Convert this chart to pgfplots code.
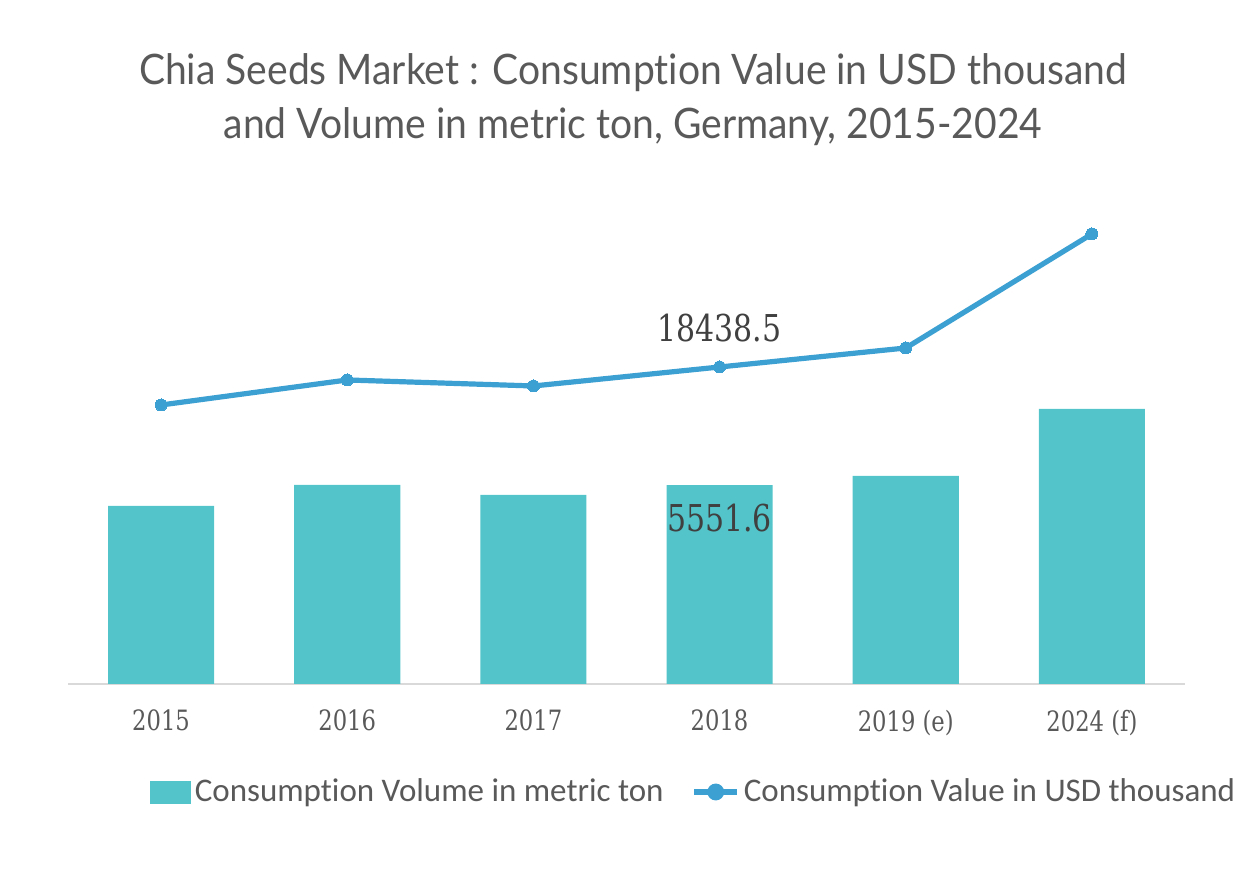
\documentclass[border=0pt]{standalone}
\usepackage{pgfplots}
\pgfplotsset{compat=1.18}
\usepackage{fontspec}
\setmainfont{Lato}[FakeStretch=0.93, Ligatures=NoCommon]
\newfontfamily\legfont{Carlito}[Ligatures=NoCommon]
\newfontfamily\tickfont{DejaVu Serif Condensed}[FakeStretch=0.9]
\definecolor{barc}{HTML}{52C4CA}
\definecolor{linec}{HTML}{3CA0D2}
\definecolor{txt}{HTML}{595959}
\definecolor{lab}{HTML}{404040}
\definecolor{axc}{HTML}{D9D9D9}
\begin{document}
\begin{tikzpicture}
\path[use as bounding box] (0pt,0pt) rectangle (626.5pt,439pt);
\node[align=center, text=txt, font=\fontsize{21}{27}\selectfont] at (316.5pt,389pt) {Chia Seeds Market : Consumption Value in USD thousand\\and Volume in metric ton, Germany, 2015-2024};
\begin{axis}[
  at={(34pt,97pt)}, anchor=south west,
  scale only axis, width=558.5pt, height=250pt,
  xmin=-0.5, xmax=5.5, ymin=0, ymax=13949,
  axis y line=none, axis x line*=bottom,
  x axis line style={draw=axc, line width=1pt, -},
  xtick={0,1,2,3,4,5},
  xticklabels={2015,2016,2017,2018,2019 (e),2024 (f)},
  major tick length=0pt,
  xticklabel style={font=\tickfont\fontsize{14}{16}\selectfont, text=txt, yshift=-9.5pt},
  ytick=\empty, clip=false,
]
\addplot[ybar, bar width=0.57, fill=barc, draw=none] coordinates {(0,4966) (1,5552) (2,5273) (3,5551.6) (4,5803) (5,7672)};
\node[text=lab, font=\tickfont\fontsize{18.5}{20}\selectfont, anchor=center] at (axis cs:3,5551.6) [yshift=-16.5pt] {5551.6};
\end{axis}
\begin{axis}[
  at={(34pt,97pt)}, anchor=south west,
  scale only axis, width=558.5pt, height=250pt,
  xmin=-0.5, xmax=5.5, ymin=0, ymax=29083,
  hide axis, clip=false,
  legend style={at={(0.561,-0.216)}, anchor=center, draw=none, fill=none,
    legend columns=2, font=\legfont\fontsize{16.5}{18}\selectfont, text=txt,
    /tikz/every even column/.append style={column sep=12pt}, inner sep=0pt},
  legend cell align=left,
]
\addlegendimage{legend image code/.code={\fill[barc] (0pt,-5.5pt) rectangle (20pt,5.5pt);}}
\addlegendentry{Consumption Volume in metric ton}
\addplot[linec, line width=2.6pt, mark=*, mark size=3pt, mark options={fill=linec, draw=linec, line width=0pt},
  legend image code/.code={\draw[linec, line width=2.6pt] (0pt,0pt) -- (21.5pt,0pt); \fill[linec] (10.75pt,0pt) circle (2.9pt);}]
  coordinates {(0,16229) (1,17684) (2,17335) (3,18438.5) (4,19545) (5,26177)};
\addlegendentry{Consumption Value in USD thousand}
\node[text=lab, font=\tickfont\fontsize{18.5}{20}\selectfont, anchor=center] at (axis cs:3,18438.5) [yshift=19.5pt] {18438.5};
\end{axis}
\end{tikzpicture}
\end{document}
